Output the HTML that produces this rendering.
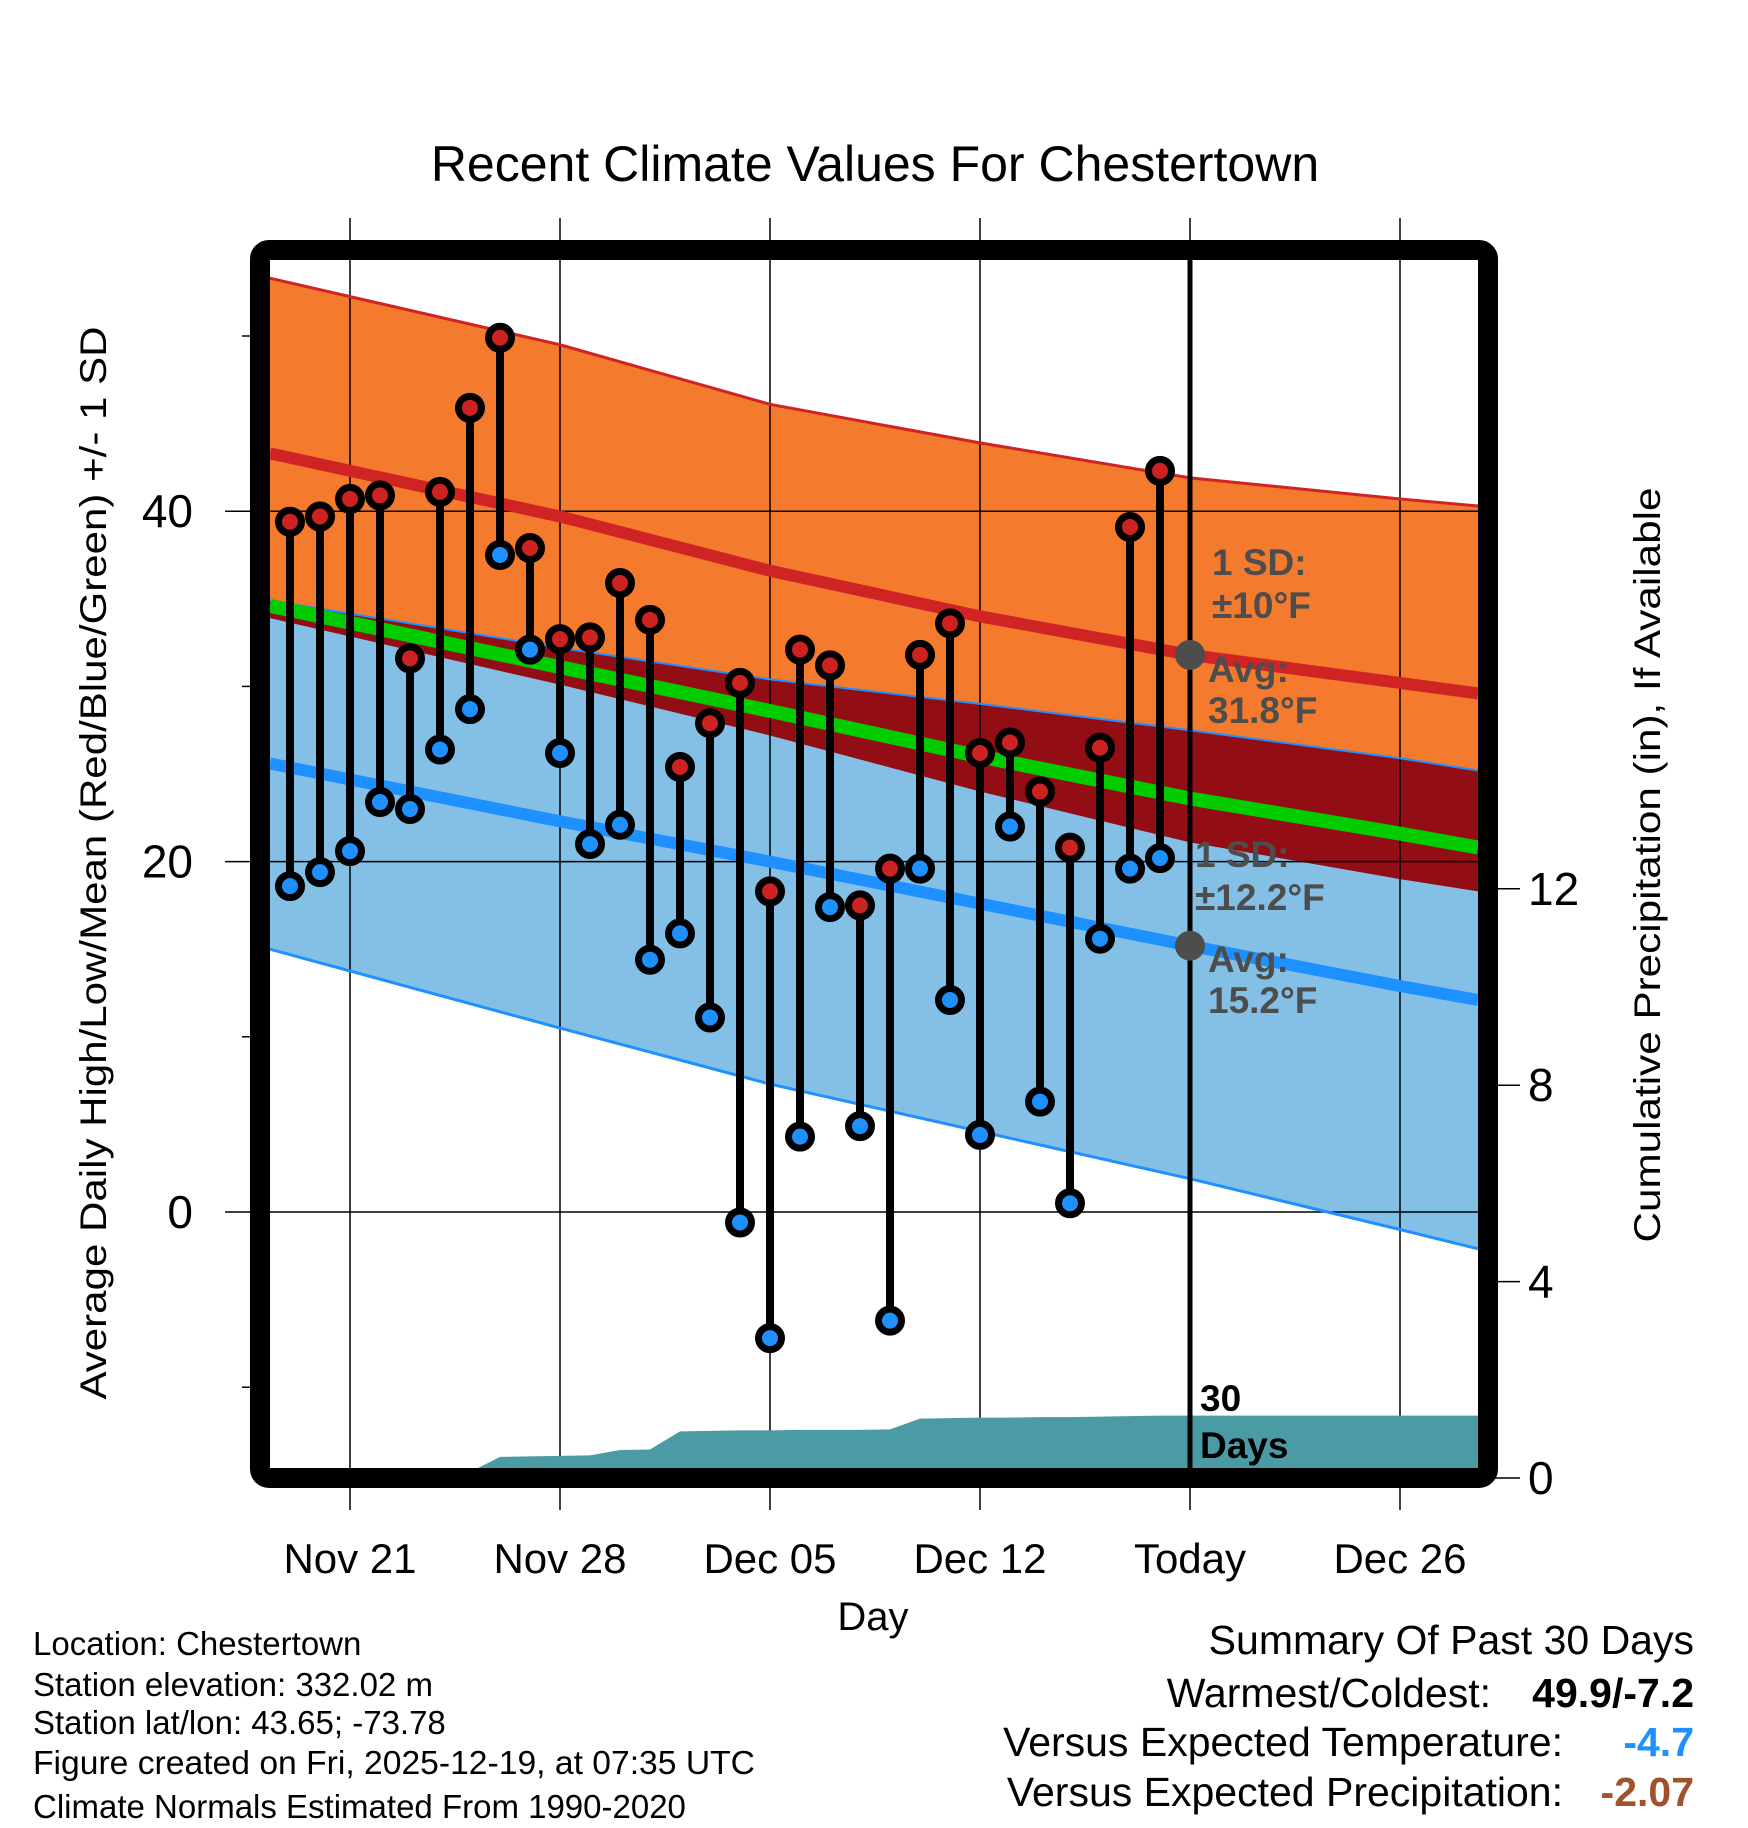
<!DOCTYPE html>
<html><head><meta charset="utf-8"><style>
html,body{margin:0;padding:0;background:#fff;}
svg{display:block;font-family:"Liberation Sans",Arial,sans-serif;}
</style></head><body>
<svg id="chart" width="1748" height="1828" viewBox="0 0 1748 1828" xmlns="http://www.w3.org/2000/svg">
<defs><clipPath id="pc"><rect x="270" y="260" width="1209" height="1209"/></clipPath></defs>
<text x="875" y="181" font-size="50" text-anchor="middle">Recent Climate Values For Chestertown</text>
<g id="fills" clip-path="url(#pc)"></g>
<g id="grid"></g>
<g id="lines" clip-path="url(#pc)"></g>
<g id="precip" clip-path="url(#pc)"></g>
<g id="stems"></g>
<g id="annot"></g>
<rect x="260" y="250" width="1228" height="1228" rx="9" fill="none" stroke="#000" stroke-width="20"/>
<text transform="translate(106,863) rotate(-90)" font-size="37" text-anchor="middle" textLength="1073" lengthAdjust="spacingAndGlyphs">Average Daily High/Low/Mean (Red/Blue/Green) +/- 1 SD</text>
<text transform="translate(1660,865) rotate(-90)" font-size="37" text-anchor="middle" textLength="755" lengthAdjust="spacingAndGlyphs">Cumulative Precipitation (in), If Available</text>
<text x="873" y="1630" font-size="40" text-anchor="middle">Day</text>
<g font-size="33">
<text x="33" y="1655">Location: Chestertown</text>
<text x="33" y="1696">Station elevation: 332.02 m</text>
<text x="33" y="1734">Station lat/lon: 43.65; -73.78</text>
<text x="33" y="1774" textLength="722" lengthAdjust="spacingAndGlyphs">Figure created on Fri, 2025-12-19, at 07:35 UTC</text>
<text x="33" y="1818">Climate Normals Estimated From 1990-2020</text>
</g>
<g font-size="41" text-anchor="end">
<text x="1694" y="1654">Summary Of Past 30 Days</text>
<text x="1491" y="1707">Warmest/Coldest:</text>
<text x="1694" y="1707" font-weight="bold">49.9/-7.2</text>
<text x="1563" y="1756">Versus Expected Temperature:</text>
<text x="1694" y="1756" font-weight="bold" fill="#1e90ff">-4.7</text>
<text x="1563" y="1806">Versus Expected Precipitation:</text>
<text x="1694" y="1806" font-weight="bold" fill="#a0522d">-2.07</text>
</g>
</svg>
<script>
const normDays=[-2.67,7,14,21,28,35,37.6];
const hiUp=[53.3,49.5,46.1,43.9,41.9,40.7,40.3];
const hiMean=[43.3,39.7,36.6,34.0,31.8,30.2,29.6];
const hiLo=[33.9,30.1,27.2,24.0,21.1,19.0,18.3];
const meanT=[34.6,31.1,28.6,26.0,23.6,21.6,20.8];
const loUp=[34.9,32.2,30.4,29.0,27.5,25.9,25.2];
const loMean=[25.6,22.3,20.0,17.6,15.2,12.9,12.1];
const loLo=[15.0,10.5,7.3,4.6,1.9,-1.0,-2.1];
const obsDays=[-2,-1,0,1,2,3,4,5,6,7,8,9,10,11,12,13,14,15,16,17,18,19,20,21,22,23,24,25,26,27];
const highs=[39.4,39.7,40.7,40.9,31.6,41.1,45.9,49.9,37.9,32.7,32.8,35.9,33.8,25.4,27.9,30.2,18.3,32.1,31.2,17.5,19.6,31.8,33.6,26.2,26.8,24.0,20.8,26.5,39.1,42.3];
const lows=[18.6,19.4,20.6,23.4,23.0,26.4,28.7,37.5,32.1,26.2,21.0,22.1,14.4,15.9,11.1,-0.6,-7.2,4.3,17.4,4.9,-6.2,19.6,12.1,4.4,22.0,6.3,0.5,15.6,19.6,20.2];
const precip=[0,0,0,0,0,0,0.12,0.43,0.44,0.45,0.46,0.57,0.58,0.95,0.96,0.97,0.97,0.98,0.98,0.98,0.99,1.21,1.22,1.23,1.23,1.24,1.24,1.25,1.26,1.27];
const yTicks=[0,20,40];
const yMinor=[-10,10,30,50];
const pTicks=[0,4,8,12];
const xTickDays=[0,7,14,21,28,35];
const xTickLabels=["Nov 21","Nov 28","Dec 05","Dec 12","Today","Dec 26"];
const todayDay=28;

const NS="http://www.w3.org/2000/svg";
const X=d=>350+30*d, Y=t=>1212-17.52*t, P=p=>1478-49.1*p;
function mk(tag,attrs,parent){const e=document.createElementNS(NS,tag);for(const k in attrs)e.setAttribute(k,attrs[k]);parent.appendChild(e);return e;}
const fills=document.getElementById('fills'),grid=document.getElementById('grid'),lines=document.getElementById('lines'),prG=document.getElementById('precip'),stems=document.getElementById('stems'),annot=document.getElementById('annot');
function pts(a){return normDays.map((d,i)=>X(d)+','+Y(a[i]));}
function band(top,bot,color,name){
  const p=pts(top).concat(pts(bot).reverse());
  const e=mk('polygon',{points:p.join(' '),fill:color},fills);
  
  
}
band(hiUp,hiLo,'#f47a2e','high-sd-band');
band(loUp,loLo,'#84c0e6','low-sd-band');
band(loUp,hiLo,'#930d14','overlap-band');
xTickDays.forEach((d,i)=>{
  const l=mk('line',{x1:X(d),x2:X(d),y1:218,y2:1510,stroke:'#000','stroke-width':1.5},grid);
  
  
  const t=mk('text',{x:X(d),y:1573,'font-size':42,'text-anchor':'middle'},annot);
  t.textContent=xTickLabels[i];
  
  
});
yTicks.forEach(v=>{
  const l=mk('line',{x1:225,x2:1479,y1:Y(v),y2:Y(v),stroke:'#000','stroke-width':1.5},grid);
  
  
  const t=mk('text',{x:193,y:Y(v)+16,'font-size':46,'text-anchor':'end'},annot);
  t.textContent=v;
  
  
});
yMinor.forEach(v=>{
  const l=mk('line',{x1:242,x2:255,y1:Y(v),y2:Y(v),stroke:'#000','stroke-width':1.5},grid);
  
  
});
pTicks.forEach(v=>{
  const l=mk('line',{x1:1495,x2:1520,y1:P(v),y2:P(v),stroke:'#000','stroke-width':1.5},grid);
  
  
  const t=mk('text',{x:1528,y:P(v)+16,'font-size':46,'text-anchor':'start'},annot);
  t.textContent=v;
  
  
});
function line(a,color,w,name){
  const e=mk('polyline',{points:pts(a).join(' '),fill:'none',stroke:color,'stroke-width':w},lines);
  
  
}
line(hiUp,'#d02424',3,'high-upper-sd-line');
line(hiMean,'#d02424',12,'normal-high-line');
line(loUp,'#1e90ff',2,'low-upper-sd-line');
line(meanT,'#00cc00',14,'normal-mean-line');
line(loMean,'#1e90ff',12,'normal-low-line');
line(loLo,'#1e90ff',3,'low-lower-sd-line');
const pp=[X(obsDays[0])+','+1480];
obsDays.forEach((d,i)=>pp.push(X(d)+','+P(precip[i])));
pp.push('1480,'+P(precip[precip.length-1]));pp.push('1480,1480');
const pe=mk('polygon',{points:pp.join(' '),fill:'#4a9ba4'},prG);


const tl=mk('line',{x1:X(todayDay),x2:X(todayDay),y1:260,y2:1470,stroke:'#000','stroke-width':5},stems);


obsDays.forEach((d,i)=>{
  const s=mk('line',{x1:X(d),x2:X(d),y1:Y(highs[i]),y2:Y(lows[i]),stroke:'#000','stroke-width':8},stems);
  
  
});
obsDays.forEach((d,i)=>{
  const h=mk('circle',{cx:X(d),cy:Y(highs[i]),r:11.5,fill:'#cc2222',stroke:'#000','stroke-width':7},stems);
  
  
  const l=mk('circle',{cx:X(d),cy:Y(lows[i]),r:11.5,fill:'#1e90ff',stroke:'#000','stroke-width':7},stems);
  
  
});
[[hiMean,'avg-high-dot'],[loMean,'avg-low-dot']].forEach(([a,n])=>{
  const c=mk('circle',{cx:X(todayDay),cy:Y(a[4]),r:15,fill:'#4d4d4d'},annot);
  
  
});
const labs=[[1212,575,'1 SD:','#4d4d4d'],[1212,618,'±10°F','#4d4d4d'],[1208,682,'Avg:','#4d4d4d'],[1208,723,'31.8°F','#4d4d4d'],
[1195,867,'1 SD:','#4d4d4d'],[1195,910,'±12.2°F','#4d4d4d'],[1208,972,'Avg:','#4d4d4d'],[1208,1013,'15.2°F','#4d4d4d'],
[1200,1411,'30','#000'],[1200,1458,'Days','#000']];
labs.forEach(([x,y,s,c])=>{
  const t=mk('text',{x:x,y:y,'font-size':37,'font-weight':'bold',fill:c},annot);
  t.textContent=s;
  
  
});
</script>
</body></html>
